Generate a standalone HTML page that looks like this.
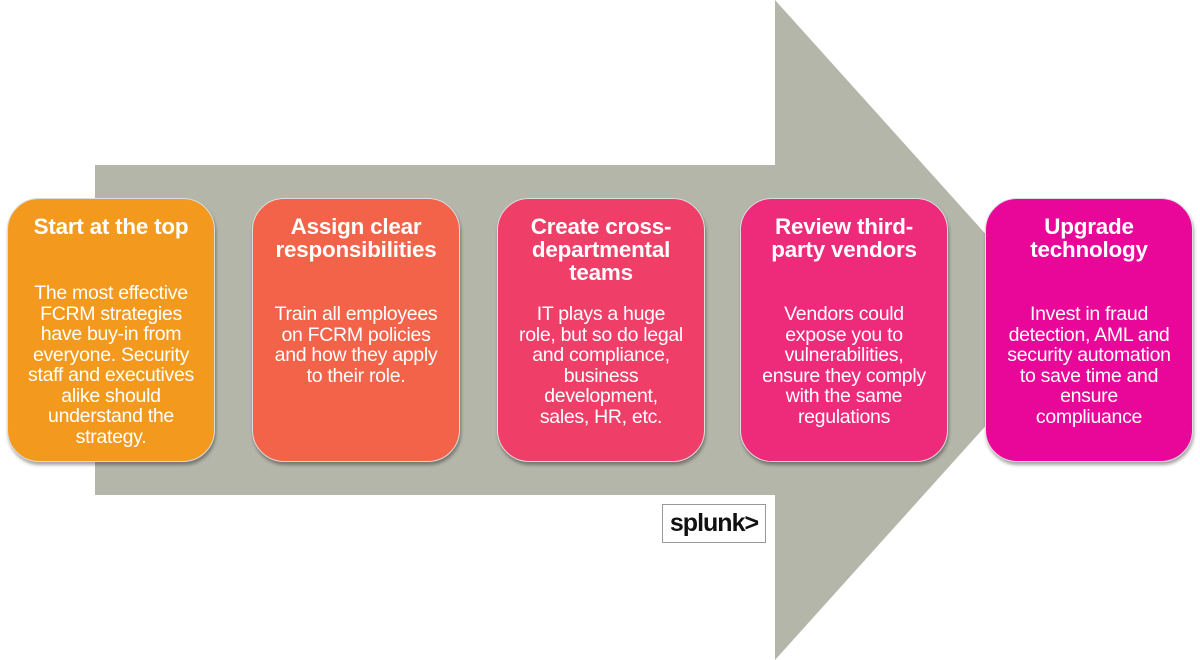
<!DOCTYPE html>
<html><head><style>
body{margin:0;width:1200px;height:660px;background:#fff;position:relative;overflow:hidden;font-family:"Liberation Sans",Arial,sans-serif}
.b{position:absolute;top:198px;width:208px;height:264px;border-radius:32px;color:#fff;text-align:center;box-shadow:1px 3px 3px rgba(0,0,0,.35);border:1px solid #ddd;box-sizing:border-box;white-space:nowrap}
.t{font-weight:bold;font-size:22.4px;line-height:23px;margin-top:16px;height:70px;letter-spacing:-0.2px}
.d{font-size:19.5px;line-height:20.5px;letter-spacing:-0.3px}
</style></head><body>
<svg width="1200" height="660" style="position:absolute;left:0;top:0">
<polygon points="95,165 775,165 775,0 1072,330 775,660 775,495 95,495" fill="#b5b6aa"/>
</svg>
<div class="b" style="left:7px;background:#f39a1e"><div class="t">Start at the top</div><div class="d" style="margin-top:-2px">The most effective<br>FCRM strategies<br>have buy-in from<br>everyone. Security<br>staff and executives<br>alike should<br>understand the<br>strategy.</div></div>
<div class="b" style="left:252px;background:#f2634a"><div class="t">Assign clear<br>responsibilities</div><div class="d" style="margin-top:19px">Train all employees<br>on FCRM policies<br>and how they apply<br>to their role.</div></div>
<div class="b" style="left:497px;background:#ef3f68"><div class="t">Create cross-<br>departmental<br>teams</div><div class="d" style="margin-top:19px">IT plays a huge<br>role, but so do legal<br>and compliance,<br>business<br>development,<br>sales, HR, etc.</div></div>
<div class="b" style="left:740px;background:#ee2a7b"><div class="t">Review third-<br>party vendors</div><div class="d" style="margin-top:19px">Vendors could<br>expose you to<br>vulnerabilities,<br>ensure they comply<br>with the same<br>regulations</div></div>
<div class="b" style="left:985px;background:#e9079a"><div class="t">Upgrade<br>technology</div><div class="d" style="margin-top:19px">Invest in fraud<br>detection, AML and<br>security automation<br>to save time and<br>ensure<br>compliuance</div></div>
<div style="position:absolute;left:662px;top:504px;width:104px;height:39px;background:#fff;border:1px solid #999;box-sizing:border-box;font-size:25px;font-weight:bold;line-height:36px;text-align:center;color:#111;letter-spacing:-1px">splunk&gt;</div>
</body></html>
